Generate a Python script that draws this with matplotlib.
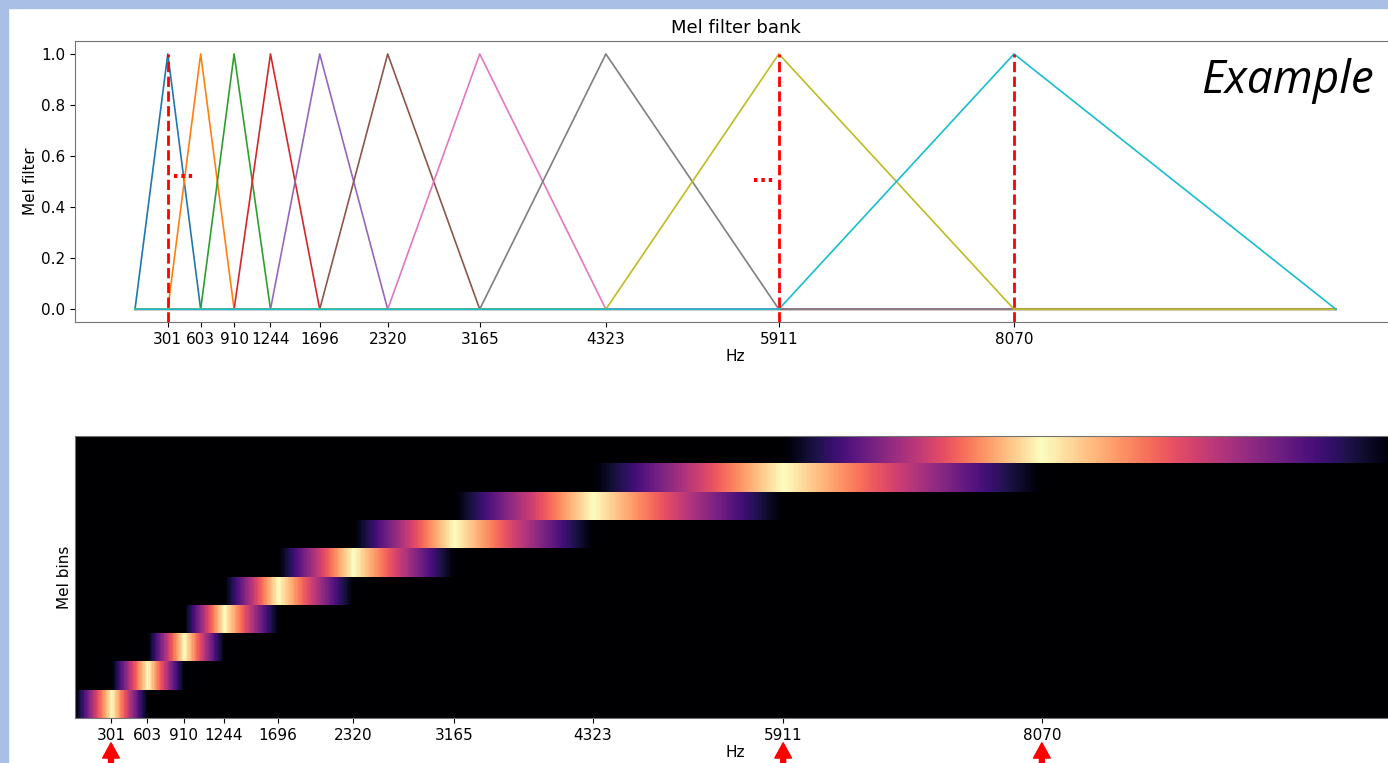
import numpy as np
import matplotlib.pyplot as plt
from matplotlib.patches import Rectangle
from matplotlib.transforms import blended_transform_factory

# centre frequencies of the 10 mel filters (Hz), sr = 22050
centers = [301, 603, 910, 1244, 1696, 2320, 3165, 4323, 5911, 8070]
f_min = 0
f_max = 11025
marked = [301, 5911, 8070]
dots_at = [(440, 0.515), (5770, 0.50)]

edges = [f_min] + centers + [f_max]
freqs = np.linspace(f_min, f_max, 1025)

fig = plt.figure(figsize=(13.88, 7.63), dpi=100)
fig.patch.set_facecolor('white')
# slide border
fig.patches.append(Rectangle((0, 0), 8 / 1388, 1, transform=fig.transFigure,
                             color='#a9bfe6', zorder=0))
fig.patches.append(Rectangle((0, 1 - 8 / 763), 1, 8 / 763, transform=fig.transFigure,
                             color='#a9bfe6', zorder=0))

# --- top: mel filter bank ---
ax1 = fig.add_axes([0.054, 0.578, 0.9517, 0.368])
bank = []
for i in range(len(centers)):
    xs = [f_min, edges[i], edges[i + 1], edges[i + 2], f_max]
    ys = [0, 0, 1, 0, 0]
    ax1.plot(xs, ys, lw=1.2)
    bank.append(np.interp(freqs, edges[i:i + 3], [0, 1, 0], left=0, right=0))

ax1.vlines(marked, -0.05, 1, colors='red', linestyles='--', lw=2, zorder=5)
for x, y in dots_at:
    ax1.text(x, y, '...', color='red', fontsize=14, fontweight='bold',
             ha='center', va='baseline')
ax1.set_xticks(centers)
ax1.set_xticklabels([str(c) for c in centers])
ax1.set_ylim(-0.05, 1.05)
ax1.set_title('Mel filter bank', fontsize=13)
ax1.set_xlabel('Hz', fontsize=11, labelpad=2)
ax1.set_ylabel('Mel filter', fontsize=11, labelpad=2)
ax1.tick_params(labelsize=11)
ax1.text(0.983, 0.86, 'Example', transform=ax1.transAxes, fontsize=33,
         style='italic', family='Open Sans', ha='right', va='center')

# --- bottom: filter bank as image ---
ax2 = fig.add_axes([0.054, 0.059, 0.9517, 0.3696])
ax2.imshow(np.array(bank), aspect='auto', origin='lower', cmap='magma',
           extent=[f_min, f_max, 0, len(centers)], interpolation='nearest')
ax2.set_xticks(centers)
ax2.set_xticklabels([str(c) for c in centers])
ax2.set_yticks([])
ax2.set_xlabel('Hz', fontsize=11, labelpad=2)
ax2.set_ylabel('Mel bins', fontsize=11, labelpad=2)
ax2.tick_params(labelsize=11)

# red arrows under the marked frequencies
trans = blended_transform_factory(ax2.transData, ax2.transAxes)
for m in marked:
    ax2.annotate('', xy=(m, -0.088), xycoords=trans, xytext=(m, -0.3), textcoords=trans,
                 arrowprops=dict(color='red', width=3.5, headwidth=12, headlength=11),
                 annotation_clip=False)

for ax in (ax1, ax2):
    for s in ax.spines.values():
        s.set_color('0.45')

fig.savefig('out.png', dpi=100)
